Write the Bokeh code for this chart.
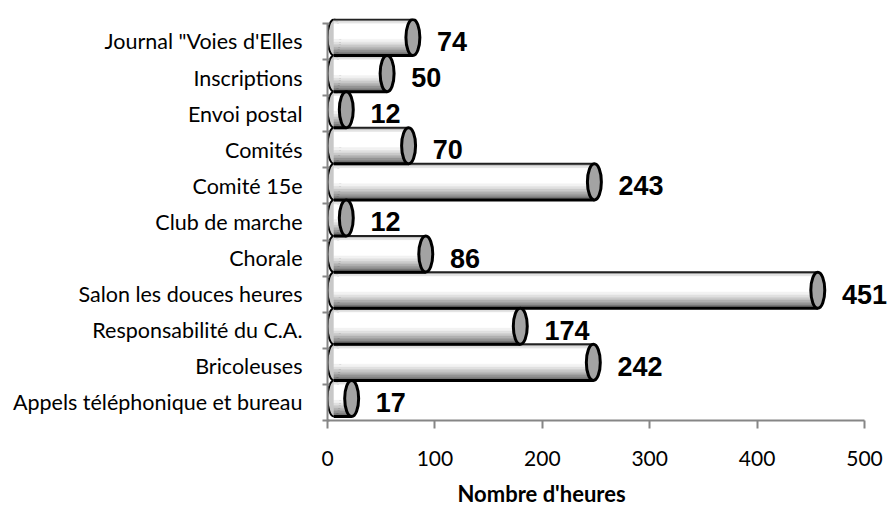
from bokeh.plotting import figure
from bokeh.models import ColumnDataSource, FixedTicker, LabelSet, Title, Range1d
from bokeh.core.properties import value
from bokeh.embed import file_html
from bokeh.resources import INLINE

# ---- data (top to bottom as shown) ----
categories = ['Journal "Voies d\'Elles', 'Inscriptions', 'Envoi postal', 'Comités',
              'Comité 15e', 'Club de marche', 'Chorale', 'Salon les douces heures',
              'Responsabilité du C.A.', 'Bricoleuses', 'Appels téléphonique et bureau']
hours = [74, 50, 12, 70, 243, 12, 86, 451, 174, 242, 17]
x_ticks = [0, 100, 200, 300, 400, 500]
x_title = "Nombre d'heures"

n = len(categories)
centers = [n - 1 - j + 0.5 for j in range(n)]

# ---- style constants ----
shift = 0.11        # 3D depth offset (up)
bar_h = 1.0
x_start = 6.0       # left end ellipse centre
cap_off = 5.5       # 3D depth offset (right)
cap_w = 13.0
grad = [(0.00, 0.06, "#bcbcbc"), (0.06, 0.12, "#e4e4e4"), (0.12, 0.55, "#ffffff"),
        (0.55, 0.63, "#f2f2f2"), (0.63, 0.70, "#e0e0e0"), (0.70, 0.77, "#cacaca"),
        (0.77, 0.84, "#b0b0b0"), (0.84, 0.91, "#959595"), (0.91, 1.00, "#767676")]

p = figure(width=890, height=515, output_backend="svg", toolbar_location=None,
           x_range=Range1d(0, 524.2), y_range=Range1d(0, 11.136),
           min_border_left=327, min_border_right=0, min_border_top=18, min_border_bottom=95)
p.outline_line_color = None
p.xgrid.visible = False
p.ygrid.visible = False
p.background_fill_color = "white"
p.border_fill_color = "white"

# gradient strips
sy, sl, sr, sh, sc = [], [], [], [], []
for c, v in zip(centers, hours):
    yc = c + shift
    top = yc + bar_h / 2
    for a, b, col in grad:
        sy.append(top - (a + b) / 2 * bar_h)
        sh.append((b - a) * bar_h)
        sl.append(x_start)
        sr.append(v + cap_off)
        sc.append(col)

ends = [v + cap_off for v in hours]
ycs = [c + shift for c in centers]
base = ColumnDataSource(dict(y=ycs, end=ends, start=[x_start] * n,
                             top=[y + bar_h / 2 for y in ycs],
                             bot=[y - bar_h / 2 for y in ycs]))

# left end
p.ellipse(x="start", y="y", width=12, height=bar_h, source=base,
          fill_color="#c8c8c8", line_color="black", line_width=2)
# body
p.hbar(y=sy, left=sl, right=sr, height=sh, fill_color=sc, line_color=sc, line_width=0.5)
# outlines
p.segment(x0="start", y0="top", x1="end", y1="top", source=base, line_color="#222222", line_width=2)
p.segment(x0="start", y0="bot", x1="end", y1="bot", source=base, line_color="black", line_width=3)
# right cap
p.ellipse(x="end", y="y", width=cap_w, height=bar_h, source=base,
          fill_color="#a3a3a3", line_color="black", line_width=3)

# value labels
lab = ColumnDataSource(dict(x=[v + 28 for v in hours], y=centers, t=[str(v) for v in hours]))
p.add_layout(LabelSet(x="x", y="y", text="t", source=lab, text_font=value("Liberation Sans"),
                      text_font_style="bold", text_font_size="27px", text_color="black",
                      text_align="left", text_baseline="middle"))

# axes
ax = p.xaxis[0]
ax.ticker = FixedTicker(ticks=x_ticks)
ax.bounds = (0, 500)
ax.axis_line_color = "#868686"
ax.axis_line_width = 2
ax.major_tick_line_color = "#868686"
ax.major_tick_line_width = 2
ax.major_tick_out = 8
ax.major_tick_in = 0
ax.minor_tick_line_color = None
ax.major_label_text_font = "Lato"
ax.major_label_text_font_size = "21px"
ax.major_label_text_color = "black"
ax.major_label_standoff = 22

ay = p.yaxis[0]
ay.ticker = FixedTicker(ticks=centers, minor_ticks=list(range(n + 1)))
ay.bounds = (0, n)
ay.major_label_overrides = {c: cat for c, cat in zip(centers, categories)}
ay.axis_line_color = "#868686"
ay.axis_line_width = 2
ay.major_tick_line_color = None
ay.major_tick_out = 0
ay.major_tick_in = 0
ay.minor_tick_line_color = "#868686"
ay.minor_tick_line_width = 2
ay.minor_tick_out = 5
ay.minor_tick_in = 2
ay.major_label_text_font = "Lato"
ay.major_label_text_font_size = "21.5px"
ay.major_label_text_color = "black"
ay.major_label_standoff = 20

p.add_layout(Title(text=x_title, align="left", offset=130, text_font="Lato",
                   text_font_style="bold", text_font_size="22px", text_color="black",
                   standoff=18), "below")

open("out.html", "w").write(file_html(p, INLINE))
